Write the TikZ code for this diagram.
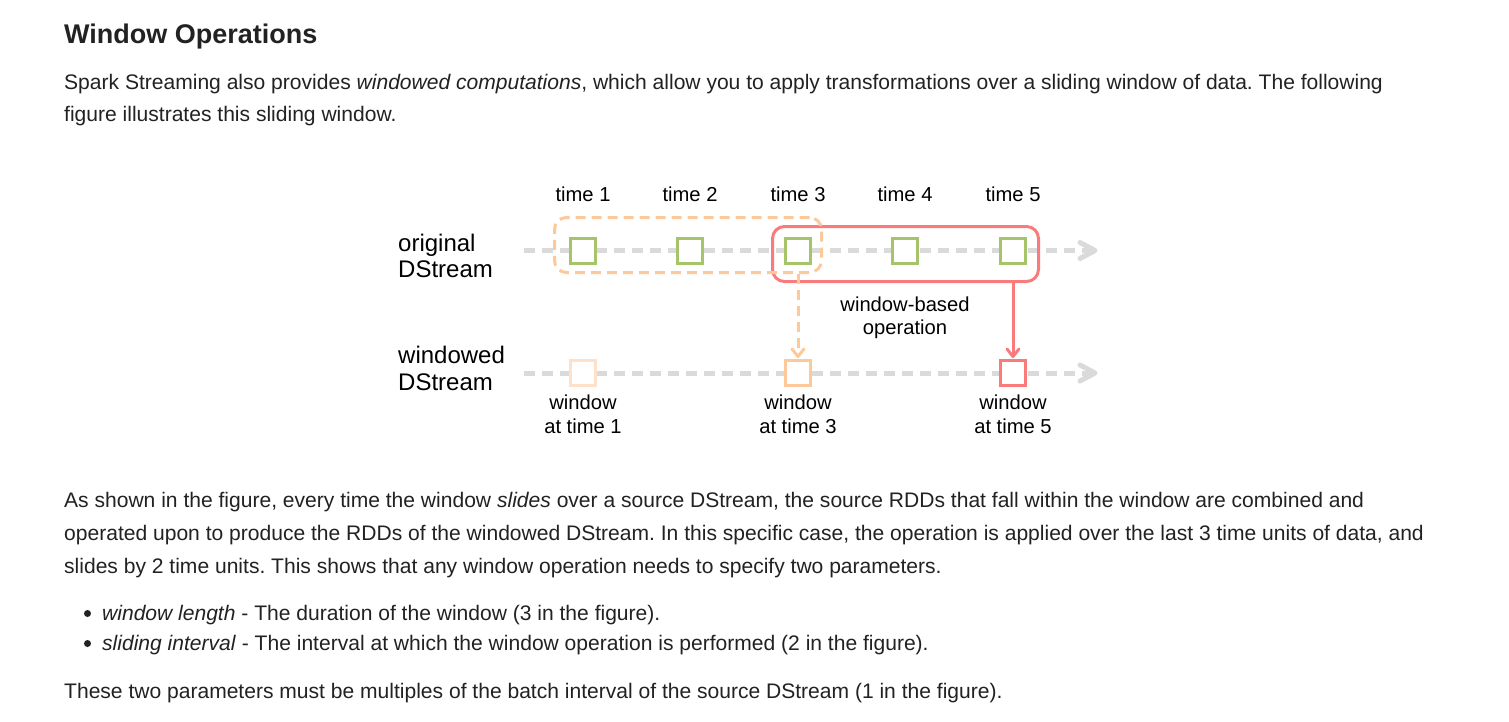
\documentclass[tikz,border=0pt]{standalone}
\usepackage{fontspec}
\setmainfont{Liberation Sans}
\usetikzlibrary{calc}
\definecolor{textc}{HTML}{222222}
\definecolor{axisg}{HTML}{DADADA}
\definecolor{greenc}{HTML}{A6C46A}
\definecolor{peach}{HTML}{FDC89A}
\definecolor{lpeach}{HTML}{FDE1CB}
\definecolor{redc}{HTML}{FA7B7B}
\frenchspacing
\begin{document}
\begin{tikzpicture}[x=1pt,y=-1pt,
  body/.style={font=\fontsize{21.05}{26}\selectfont, text=textc, inner sep=0pt, anchor=base west},
  heading/.style={font=\fontsize{27}{32}\selectfont\bfseries, text=textc, inner sep=0pt, anchor=base west},
  tlbl/.style={font=\fontsize{20.2}{24}\selectfont, text=black, inner sep=0pt, anchor=base},
  rowlbl/.style={font=\fontsize{24}{28}\selectfont, text=black, inner sep=0pt, anchor=base west},
  axisline/.style={draw=axisg, line width=5pt, dash pattern=on 11pt off 7pt},
  chev/.style={draw=#1, line cap=round, line join=round},
  rdd/.style={draw=#1, line width=3pt, fill=white, minimum size=25pt, inner sep=0pt},
  winbox/.style={draw=#1, line width=3pt, rounded corners=12pt, inner sep=0pt},
  bul/.style={circle, fill=textc, minimum size=7pt, inner sep=0pt}
]
\useasboundingbox (0,0) rectangle (1509,721);
\fill[white] (0,0) rectangle (1509,721);

% ---- text above
\node[heading] (h) at (64,43) {Window Operations};
\node[body] (p1a) at (64,89) {Spark Streaming also provides \textit{windowed computations}, which allow you to apply transformations over a sliding window of data. The following};
\node[body] (p1b) at (64,121.5) {figure illustrates this sliding window.};

% ---- diagram
\foreach \i/\x in {1/583,2/690,3/798,4/905,5/1013}
  \node[tlbl] (t\i) at (\x,201) {time \i};

\node[rowlbl] (o1) at (398,251) {original};
\node[rowlbl] (o2) at (398,277) {DStream};
\node[rowlbl] (w1l) at (398,363) {windowed};
\node[rowlbl] (w2l) at (398,390) {DStream};

\coordinate (as) at (524,250.5);
\coordinate (ae) at (1095,250.5);
\coordinate (bs) at (524,373);
\coordinate (be) at (1095,373);
\draw[axisline] (as) -- ($(ae)+(-4,0)$);
\draw[chev=axisg, line width=5pt] ($(ae)+(-15,-8)$) -- (ae) -- ($(ae)+(-15,8)$);
\draw[axisline] (bs) -- ($(be)+(-4,0)$);
\draw[chev=axisg, line width=5pt] ($(be)+(-15,-8)$) -- (be) -- ($(be)+(-15,8)$);

\node[winbox=redc, minimum width=266pt, minimum height=55pt] (wr) at (905.5,254) {};
\node[winbox=peach, dash pattern=on 10pt off 6pt, minimum width=267pt, minimum height=55pt] (wo) at (688,245) {};

\foreach \i/\x in {1/583,2/690,3/798,4/905,5/1013}
  \node[rdd=greenc] (r\i) at (\x,250.5) {};

\node[rdd=lpeach] (s1) at (583,373) {};
\node[rdd=peach] (s3) at (798,373) {};
\node[rdd=redc] (s5) at (1013,373) {};

\draw[draw=peach, line width=3pt, dash pattern=on 10pt off 6pt, shorten >=3pt] (wo.south -| s3.north) -- (s3.north);
\draw[chev=peach, line width=3pt] ($(s3.north)+(-6,-10)$) -- ($(s3.north)+(0,-2.5)$) -- ($(s3.north)+(6,-10)$);
\draw[draw=redc, line width=3pt, shorten >=3pt] (wr.south -| s5.north) -- (s5.north);
\draw[chev=redc, line width=3pt] ($(s5.north)+(-6,-10)$) -- ($(s5.north)+(0,-2.5)$) -- ($(s5.north)+(6,-10)$);

\node[tlbl] (op1) at (905,311) {window-based};
\node[tlbl] (op2) at (905,334) {operation};

\node[tlbl] (l1a) at (583,409) {window};
\node[tlbl] (l1b) at (583,433) {at time 1};
\node[tlbl] (l3a) at (798,409) {window};
\node[tlbl] (l3b) at (798,433) {at time 3};
\node[tlbl] (l5a) at (1013,409) {window};
\node[tlbl] (l5b) at (1013,433) {at time 5};

% ---- text below
\node[body] (p2a) at (64,507) {As shown in the figure, every time the window \textit{slides} over a source DStream, the source RDDs that fall within the window are combined and};
\node[body] (p2b) at (64,540) {operated upon to produce the RDDs of the windowed DStream. In this specific case, the operation is applied over the last 3 time units of data, and};
\node[body] (p2c) at (64,573) {slides by 2 time units. This shows that any window operation needs to specify two parameters.};

\node[bul] (b1) at (87.5,613.5) {};
\node[body] (i1) at (102,620) {\textit{window length} - The duration of the window (3 in the figure).};
\node[bul] (b2) at (87.5,643.5) {};
\node[body] (i2) at (102,650) {\textit{sliding interval} - The interval at which the window operation is performed (2 in the figure).};

\node[body] (p3) at (64,698) {These two parameters must be multiples of the batch interval of the source DStream (1 in the figure).};
\end{tikzpicture}
\end{document}
